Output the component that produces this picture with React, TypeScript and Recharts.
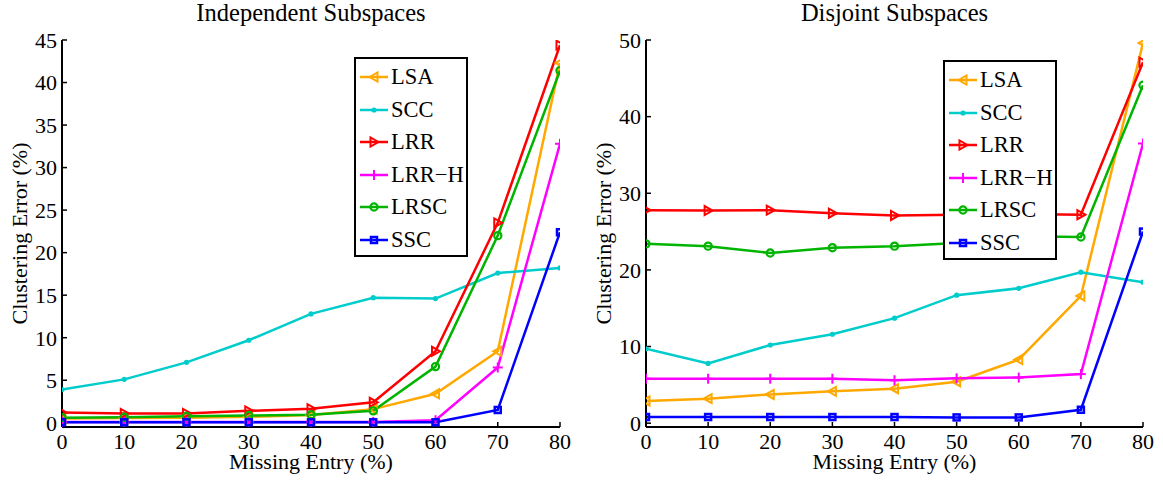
import { LineChart, Line, XAxis, YAxis, Legend } from 'recharts'

const missingEntry = [0, 10, 20, 30, 40, 50, 60, 70, 80]

// Independent Subspaces
const indepLSA = [0.5, 0.55, 0.6, 0.7, 0.9, 1.6, 3.4, 8.4, 42.3]
const indepSCC = [3.9, 5.1, 7.1, 9.7, 12.8, 14.7, 14.6, 17.6, 18.2]
const indepLRR = [1.2, 1.1, 1.1, 1.4, 1.65, 2.4, 8.4, 23.5, 44.4]
const indepLRRH = [0.1, 0.1, 0.1, 0.1, 0.1, 0.1, 0.3, 6.5, 32.8]
const indepLRSC = [0.6, 0.65, 0.75, 0.85, 0.95, 1.4, 6.6, 22.0, 41.4]
const indepSSC = [0.05, 0.05, 0.05, 0.05, 0.05, 0.05, 0.05, 1.5, 22.4]

// Disjoint Subspaces
const disjLSA = [2.9, 3.2, 3.75, 4.15, 4.5, 5.4, 8.3, 16.6, 49.6]
const disjSCC = [9.7, 7.8, 10.2, 11.6, 13.7, 16.7, 17.6, 19.7, 18.4]
const disjLRR = [27.8, 27.75, 27.8, 27.4, 27.1, 27.2, 27.3, 27.2, 47.1]
const disjLRRH = [5.8, 5.8, 5.8, 5.8, 5.6, 5.85, 5.95, 6.4, 36.5]
const disjLRSC = [23.4, 23.1, 22.2, 22.9, 23.1, 23.5, 24.4, 24.3, 44.1]
const disjSSC = [0.8, 0.8, 0.8, 0.8, 0.8, 0.75, 0.75, 1.75, 25.0]

const indepYTicks = [0, 5, 10, 15, 20, 25, 30, 35, 40, 45]
const disjYTicks = [0, 10, 20, 30, 40, 50]

const FONT = '"Liberation Serif", "Times New Roman", serif'

type MarkerKind = 'left' | 'point' | 'right' | 'plus' | 'circle' | 'square'

const series: { key: string; name: string; color: string; marker: MarkerKind }[] = [
  { key: 'LSA', name: 'LSA', color: '#FFA800', marker: 'left' },
  { key: 'SCC', name: 'SCC', color: '#00CCCC', marker: 'point' },
  { key: 'LRR', name: 'LRR', color: '#FF0000', marker: 'right' },
  { key: 'LRRH', name: 'LRR\u2212H', color: '#FF00FF', marker: 'plus' },
  { key: 'LRSC', name: 'LRSC', color: '#00B400', marker: 'circle' },
  { key: 'SSC', name: 'SSC', color: '#0000FF', marker: 'square' },
]

function buildRows(v: Record<string, number[]>) {
  return missingEntry.map((x, i) => {
    const row: Record<string, number> = { x }
    Object.keys(v).forEach((k) => (row[k] = v[k][i]))
    return row
  })
}

const indepRows = buildRows({
  LSA: indepLSA, SCC: indepSCC, LRR: indepLRR, LRRH: indepLRRH, LRSC: indepLRSC, SSC: indepSSC,
})
const disjRows = buildRows({
  LSA: disjLSA, SCC: disjSCC, LRR: disjLRR, LRRH: disjLRRH, LRSC: disjLRSC, SSC: disjSSC,
})

// matlab-ish unfilled markers, small with a thick edge
function Marker({ kind, cx, cy, color }: { kind: MarkerKind; cx: number; cy: number; color: string }) {
  switch (kind) {
    case 'left':
      return <polygon points={`${cx - 4.5},${cy} ${cx + 3.5},${cy - 4.5} ${cx + 3.5},${cy + 4.5}`} fill="none" stroke={color} strokeWidth={2} />
    case 'right':
      return <polygon points={`${cx + 4.5},${cy} ${cx - 3.5},${cy - 4.5} ${cx - 3.5},${cy + 4.5}`} fill="none" stroke={color} strokeWidth={2} />
    case 'point':
      return <circle cx={cx} cy={cy} r={2.6} fill={color} />
    case 'plus':
      return (
        <g stroke={color} strokeWidth={2}>
          <line x1={cx - 5} x2={cx + 5} y1={cy} y2={cy} />
          <line x1={cx} x2={cx} y1={cy - 5} y2={cy + 5} />
        </g>
      )
    case 'circle':
      return <circle cx={cx} cy={cy} r={3.6} fill="none" stroke={color} strokeWidth={2.2} />
    default:
      return <rect x={cx - 3} y={cy - 3} width={6} height={6} fill="none" stroke={color} strokeWidth={2.5} />
  }
}

const LegendBox = () => (
  <div style={{ border: '2px solid #000', background: '#fff', width: 110, height: 194, paddingTop: 2, fontFamily: FONT }}>
    {series.map((s) => (
      <div key={s.key} style={{ display: 'flex', alignItems: 'center', height: 32.5 }}>
        <svg width={35} height={30} style={{ display: 'block' }}>
          <line x1={4} x2={32} y1={15} y2={15} stroke={s.color} strokeWidth={2.5} />
          <Marker kind={s.marker} cx={18} cy={15} color={s.color} />
        </svg>
        <span style={{ fontSize: 22.5, lineHeight: '22px', color: '#000' }}>{s.name}</span>
      </div>
    ))}
  </div>
)

interface PanelProps {
  title: string
  rows: Record<string, number>[]
  yDomain: [number, number]
  yTicks: number[]
  left: number
  width: number
  yAxisWidth: number
  labelDx: number
  legendLeft: number
  legendTop: number
}

const tickStyle = { fontSize: 22, fill: '#000', fontFamily: FONT }
const axisLine = { stroke: '#000', strokeWidth: 2 }
const tickLine = { stroke: '#000', strokeWidth: 1.5 }

function Panel({ title, rows, yDomain, yTicks, left, width, yAxisWidth, labelDx, legendLeft, legendTop }: PanelProps) {
  const plotCenter = yAxisWidth + (width - 20 - yAxisWidth) / 2
  return (
    <div style={{ position: 'absolute', left, top: 0, width, height: 480, fontFamily: FONT }}>
      <div
        style={{
          position: 'absolute', left: plotCenter - 200, width: 400, top: 1, textAlign: 'center',
          fontSize: 24.5, lineHeight: '24px', color: '#000', zIndex: 2,
        }}
      >
        {title}
      </div>
      <LineChart width={width} height={480} data={rows} margin={{ top: 40, right: 20, bottom: 0, left: 0 }} style={{ fontFamily: FONT }}>
        <XAxis
          dataKey="x"
          type="number"
          domain={[0, 80]}
          ticks={missingEntry}
          height={53}
          tick={tickStyle}
          tickSize={-5}
          tickMargin={11}
          axisLine={axisLine}
          tickLine={tickLine}
          allowDataOverflow
          label={{ value: 'Missing Entry (%)', position: 'insideBottom', offset: 11, fontSize: 22, fill: '#000', fontFamily: FONT }}
        />
        <XAxis
          xAxisId="top"
          orientation="top"
          dataKey="x"
          type="number"
          domain={[0, 80]}
          ticks={missingEntry}
          height={0}
          tickFormatter={() => ''}
          tickSize={-5}
          axisLine={axisLine}
          tickLine={tickLine}
          allowDataOverflow
        />
        <YAxis
          type="number"
          domain={yDomain}
          ticks={yTicks}
          width={yAxisWidth}
          tick={tickStyle}
          tickSize={-5}
          tickMargin={10}
          axisLine={axisLine}
          tickLine={tickLine}
          allowDataOverflow
          label={{ value: 'Clustering Error (%)', angle: -90, position: 'center', dx: labelDx, fontSize: 22, fill: '#000', fontFamily: FONT }}
        />
        <YAxis
          yAxisId="r"
          orientation="right"
          type="number"
          domain={yDomain}
          ticks={yTicks}
          width={0}
          tickFormatter={() => ''}
          tickSize={-5}
          axisLine={axisLine}
          tickLine={tickLine}
          allowDataOverflow
        />
        {series.map((s) => (
          <Line
            key={s.key}
            dataKey={s.key}
            name={s.name}
            stroke={s.color}
            strokeWidth={2.5}
            type="linear"
            isAnimationActive={false}
            activeDot={false}
            dot={(p: { cx?: number; cy?: number; index?: number }) => (
              <Marker key={`${s.key}-${p.index}`} kind={s.marker} cx={p.cx ?? 0} cy={p.cy ?? 0} color={s.color} />
            )}
          />
        ))}
        <Legend
          layout="vertical"
          align="center"
          verticalAlign="middle"
          content={() => <LegendBox />}
          wrapperStyle={{ position: 'absolute', left: legendLeft, top: legendTop, width: 114, height: 200 }}
        />
      </LineChart>
    </div>
  )
}

export default function App() {
  return (
    <div style={{ position: 'absolute', left: 0, top: 0, width: 1163, height: 480, background: '#fff' }}>
      <Panel
        title="Independent Subspaces"
        rows={indepRows}
        yDomain={[-0.5, 45]}
        yTicks={indepYTicks}
        left={0}
        width={580}
        yAxisWidth={62}
        labelDx={-12}
        legendLeft={354}
        legendTop={57}
      />
      <Panel
        title="Disjoint Subspaces"
        rows={disjRows}
        yDomain={[-0.5, 50]}
        yTicks={disjYTicks}
        left={580}
        width={583}
        yAxisWidth={66}
        labelDx={-10}
        legendLeft={363}
        legendTop={60}
      />
    </div>
  )
}
